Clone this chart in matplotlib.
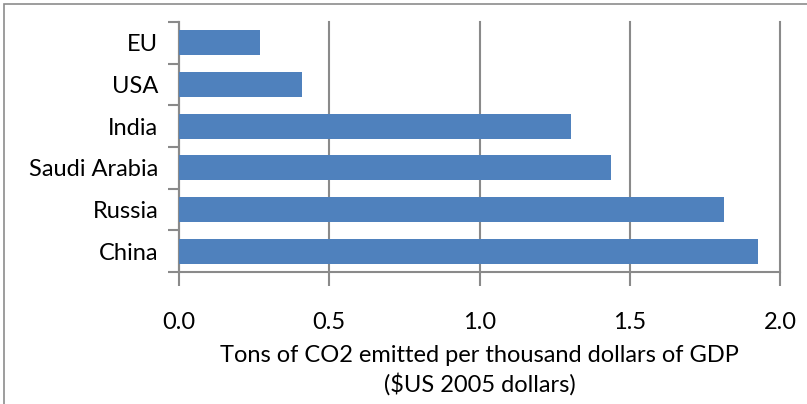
import matplotlib
matplotlib.use("Agg")
import matplotlib.pyplot as plt
from matplotlib.patches import Rectangle

countries = ["China", "Russia", "Saudi Arabia", "India", "USA", "EU"]
intensity = [1.928, 1.812, 1.436, 1.303, 0.409, 0.269]
xticks = [0.0, 0.5, 1.0, 1.5, 2.0]
xlabel = "Tons of CO2 emitted per thousand dollars of GDP\n($US 2005 dollars)"

plt.rcParams["font.family"] = ["Lato", "DejaVu Sans"]
FS = 17

W, H = 807, 404
fig = plt.figure(figsize=(W / 100, H / 100), dpi=100)
fig.patch.set_facecolor("white")

# outer chart frame
fig.add_artist(Rectangle((4 / W, -0.2), 1.2, 1.2 - 4 / H, transform=fig.transFigure,
                         fill=False, edgecolor="#8c8c8c", linewidth=1.2))

ax = fig.add_axes([179 / W, 1 - 272 / H, (780 - 179) / W, (272 - 22) / H])
grid_c = "#8a8a8a"
ypos = list(range(len(countries)))
ax.barh(ypos, intensity, height=0.6, color="#4f81bd", zorder=3)

ax.set_xlim(0, 2.0)
ax.set_ylim(-0.5, len(countries) - 0.5)
ax.set_xticks(xticks)
ax.set_xticklabels([f"{v:.1f}" for v in xticks], fontsize=FS)
ax.set_yticks(ypos)
ax.set_yticklabels(countries, fontsize=FS)
ax.tick_params(axis="y", length=0, pad=15)
ax.tick_params(axis="x", length=10, width=1.5, color=grid_c, pad=19)

# category separator ticks on the value axis
ax.set_yticks([i - 0.5 for i in range(len(countries) + 1)], minor=True)
ax.tick_params(axis="y", which="minor", length=8, width=1.5, color=grid_c)

ax.xaxis.grid(True, color=grid_c, linewidth=1.5, zorder=0)
for gl in ax.get_xgridlines():
    gl.set_clip_on(False)
for s in ["top", "right"]:
    ax.spines[s].set_visible(False)
for s in ["left", "bottom"]:
    ax.spines[s].set_color(grid_c)
    ax.spines[s].set_linewidth(1.5)

ax.set_xlabel(xlabel, fontsize=FS, linespacing=1.35, labelpad=8.5)

fig.savefig("out.png", dpi=100)
